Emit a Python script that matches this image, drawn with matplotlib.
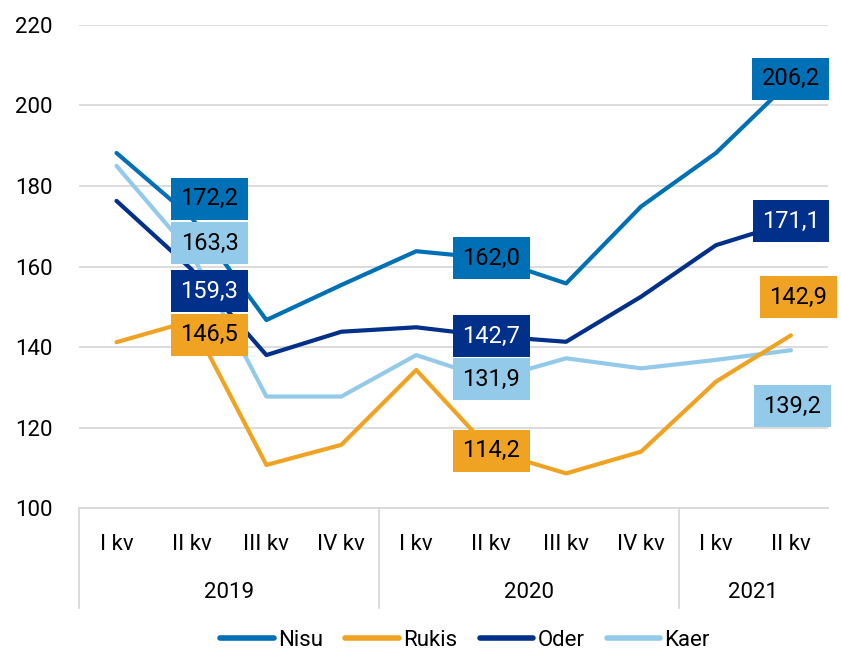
import matplotlib
matplotlib.use("Agg")
from matplotlib import pyplot as plt
from matplotlib.lines import Line2D

plt.rcParams['font.family'] = ['Roboto', 'DejaVu Sans']

quarters = ["I kv", "II kv", "III kv", "IV kv", "I kv", "II kv", "III kv", "IV kv", "I kv", "II kv"]
years = ["2019", "2020", "2021"]
yearSpans = [(0, 3), (4, 7), (8, 9)]

nisu = [188.2, 172.2, 146.7, 155.4, 163.8, 162.0, 155.8, 174.9, 188.2, 206.2]
rukis = [141.2, 146.5, 110.7, 115.7, 134.3, 114.2, 108.6, 114.0, 131.4, 142.9]
oder = [176.3, 159.3, 138.0, 143.8, 144.9, 142.7, 141.3, 152.5, 165.3, 171.1]
kaer = [185.0, 163.3, 127.7, 127.7, 138.0, 131.9, 137.2, 134.7, 136.8, 139.2]

colNisu = "#0070B6"
colRukis = "#F0A323"
colOder = "#00308A"
colKaer = "#94CAE9"

fig = plt.figure(figsize=(8.41, 6.54), dpi=100)
ax = fig.add_axes([0.094, 0.2232, 0.891, 0.7386])

x = list(range(len(quarters)))
series = [("Nisu", nisu, colNisu), ("Rukis", rukis, colRukis), ("Oder", oder, colOder), ("Kaer", kaer, colKaer)]
# draw order so that darker lines sit on top like the original
for name, vals, col in [series[3], series[1], series[2], series[0]]:
    ax.plot(x, vals, color=col, lw=3, solid_capstyle='round', zorder=3)

ax.set_ylim(100, 220)
ax.set_xlim(-0.5, 9.5)
ax.set_yticks(range(100, 221, 20))
ax.grid(axis='y', color='#D9D9D9', lw=1.3)
ax.set_axisbelow(True)
for s in ['top', 'right', 'left']:
    ax.spines[s].set_visible(False)
ax.spines['bottom'].set_color('#D9D9D9')
ax.spines['bottom'].set_linewidth(1.3)
ax.tick_params(axis='y', length=0, labelsize=16, pad=19)
ax.set_xticks(x)
ax.set_xticklabels(quarters, fontsize=16)
ax.tick_params(axis='x', length=0, pad=19)

# year labels and separators
trans = ax.get_xaxis_transform()
for yr, (a, b) in zip(years, yearSpans):
    ax.text((a + b) / 2, -0.174, yr, transform=trans, ha='center', va='center', fontsize=16)
for sep in [-0.5, 3.5, 7.5]:
    ax.plot([sep, sep], [0, -0.207], transform=trans, color='#D9D9D9', lw=1.3, clip_on=False)

# data labels: (index, series, colour, dx, label y, text colour)
labels = [
    (1, nisu, colNisu, 0.24, 176.8, 'black'),
    (1, kaer, colKaer, 0.24, 165.8, 'black'),
    (1, oder, colOder, 0.24, 153.9, 'white'),
    (1, rukis, colRukis, 0.24, 143.0, 'black'),
    (5, nisu, colNisu, 0.0, 162.1, 'black'),
    (5, oder, colOder, 0.0, 142.7, 'white'),
    (5, kaer, colKaer, 0.0, 132.0, 'black'),
    (5, rukis, colRukis, 0.0, 114.2, 'black'),
    (9, nisu, colNisu, 0.0, 206.6, 'black'),
    (9, oder, colOder, 0.0, 171.3, 'white'),
    (9, rukis, colRukis, 0.1, 152.4, 'black'),
    (9, kaer, colKaer, 0.02, 125.3, 'black'),
]
for i, vals, col, dx, ly, tc in labels:
    txt = ("%.1f" % vals[i]).replace('.', ',')
    ax.text(i + dx, ly, txt, ha='center', va='center', fontsize=17, color=tc, zorder=5,
            bbox=dict(boxstyle='square,pad=0.4', fc=col, ec='none'))

handles = [Line2D([0], [0], color=c, lw=4, solid_capstyle='round') for n, v, c in series]
fig.legend(handles, [n for n, v, c in series], loc='center', bbox_to_anchor=(0.553, 0.021),
           ncol=4, frameon=False, fontsize=16, handlelength=2.4, handletextpad=0.2, columnspacing=1.0)

fig.savefig("out.png", dpi=100)
